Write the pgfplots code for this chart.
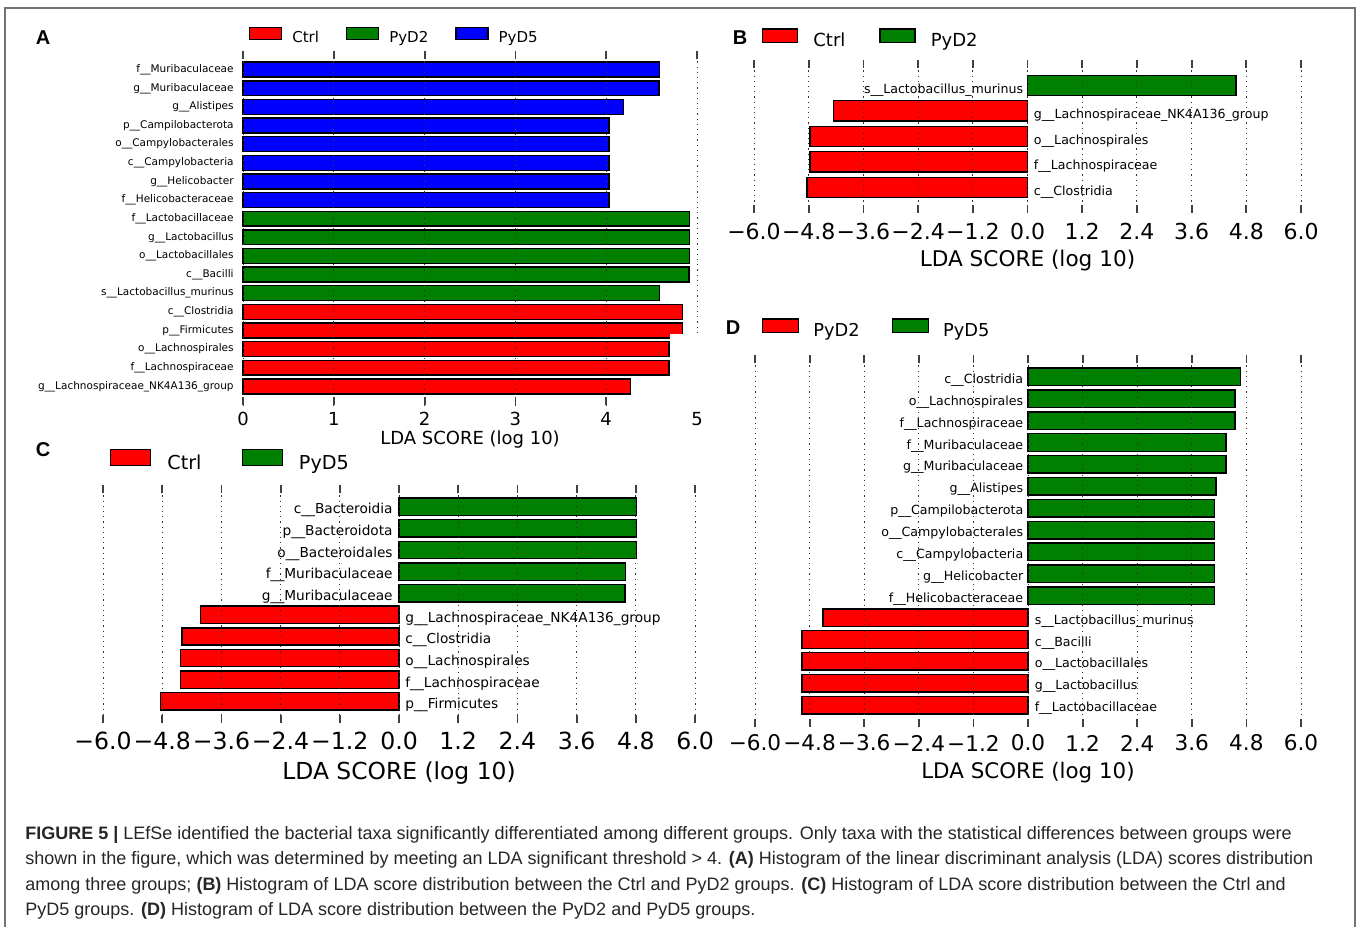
\documentclass[border=0pt]{standalone}
\usepackage{fontspec}
\setmainfont{DejaVu Sans}
\newfontfamily\capfont{Liberation Sans}
\usepackage{pgfplots}
\pgfplotsset{compat=1.18}
\definecolor{lred}{HTML}{FF0000}
\definecolor{lgreen}{HTML}{008000}
\definecolor{lblue}{HTML}{0000FF}
\newcommand\fs[1]{\fontsize{#1}{#1}\selectfont}
\tikzset{lab/.style={inner sep=0pt}}
\pgfplotsset{
 lefse/.style={
   scale only axis, xbar, bar shift=0pt, bar width=0.8,
   y dir=reverse, ytick=\empty,
   every outer x axis line/.append style={draw=none},
   every outer y axis line/.append style={draw=none},
   xtick pos=both, tick align=inside, major tick length=4pt,
   every tick/.style={draw=black!75, solid, line width=0.9pt},
   xmajorgrids, grid style={draw=black!80, line width=0.5pt, dash pattern=on 0.6pt off 2pt},
   axis on top, clip=false,
   legend columns=-1, legend cell align=left,
   legend style={draw=none, fill=none, inner sep=0pt, outer sep=0pt, nodes={inner sep=0pt}, anchor=west},
   every axis plot/.append style={draw=black, line width=0.7pt},
   xticklabel style={anchor=center},
 },
 sym/.style={xmin=-6, xmax=6, xtick={-6,-4.8,-3.6,-2.4,-1.2,0,1.2,2.4,3.6,4.8,6},
   xticklabels={−6.0,−4.8,−3.6,−2.4,−1.2,0.0,1.2,2.4,3.6,4.8,6.0}},
}
\begin{document}
\begin{tikzpicture}
\useasboundingbox (0,0) rectangle (679pt,463pt);
\fill[white] (0,0) rectangle (679pt,463pt);
\draw[black!55, line width=1pt] (2.5pt,-5pt) rectangle (677.5pt,459pt);

% ---------------- Panel A
\begin{axis}[lefse, at={(121.5pt,260.5pt)}, anchor=south west, width=227pt, height=177pt,
  xmin=0, xmax=5, ymin=-1, ymax=18, xtick={0,1,2,3,4,5}, xticklabels={0,1,2,3,4,5},
  xticklabel style={font=\fs{9}, yshift=-7pt},
  ytick={0,...,17}, ytick pos=left, ytick style={draw=none},
  yticklabels={f\_\_Muribaculaceae,g\_\_Muribaculaceae,g\_\_Alistipes,p\_\_Campilobacterota,o\_\_Campylobacterales,c\_\_Campylobacteria,g\_\_Helicobacter,f\_\_Helicobacteraceae,f\_\_Lactobacillaceae,g\_\_Lactobacillus,o\_\_Lactobacillales,c\_\_Bacilli,s\_\_Lactobacillus\_murinus,c\_\_Clostridia,p\_\_Firmicutes,o\_\_Lachnospirales,f\_\_Lachnospiraceae,g\_\_Lachnospiraceae\_NK4A136\_group},
  yticklabel style={font=\fs{5.25}, anchor=east, inner sep=0pt, xshift=-4.5pt},
  xlabel={LDA SCORE (log 10)}, xlabel style={at={(axis description cs:0.5,0)}, anchor=center, yshift=-17.5pt, font=\fs{9}},
  legend style={at={(0.0132,1.0424)}, font=\fs{7.5},
    /tikz/every even column/.append style={column sep=13.5pt}},
  legend image code/.code={\draw[#1,draw=black,line width=0.6pt] (0pt,-0.5pt) rectangle (16pt,5.5pt); \path (21pt,0pt);},
]
\addplot[fill=lred] coordinates {(4.84,13) (4.84,14) (4.69,15) (4.69,16) (4.27,17)};
\addplot[fill=lgreen] coordinates {(4.92,8) (4.92,9) (4.92,10) (4.91,11) (4.59,12)};
\addplot[fill=lblue] coordinates {(4.59,0) (4.58,1) (4.19,2) (4.03,3) (4.03,4) (4.03,5) (4.03,6) (4.03,7)};
\legend{Ctrl,PyD2,PyD5}
\end{axis}
\fill[white] (335pt,258pt) rectangle (360pt,296pt);

% ---------------- Panel B
\begin{axis}[lefse, sym, at={(377pt,356.5pt)}, anchor=south west, width=273.5pt, height=76.5pt,
  ymin=-1, ymax=5,
  xticklabel style={font=\fs{11}, yshift=-9pt},
  xlabel={LDA SCORE (log 10)}, xlabel style={at={(axis description cs:0.5,0)}, anchor=center, yshift=-24pt, font=\fs{10.8}},
  legend style={at={(0.0146,1.137)}, font=\fs{9},
    /tikz/every even column/.append style={column sep=17pt}},
  legend image code/.code={\draw[#1,draw=black,line width=0.7pt] (0pt,-0.6pt) rectangle (17.5pt,6.3pt); \path (25pt,0pt);},
]
\addplot[fill=lred] coordinates {(-4.25,1) (-4.77,2) (-4.77,3) (-4.84,4)};
\addplot[fill=lgreen] coordinates {(4.57,0)};
\legend{Ctrl,PyD2}
\begin{scope}[font=\fs{6.3}]
\node[lab, anchor=base east, xshift=-2pt] at (axis cs:0,0.3) {s\_\_Lactobacillus\_murinus};
\node[lab, anchor=base west, xshift=3pt] at (axis cs:0,1.3) {g\_\_Lachnospiraceae\_NK4A136\_group};
\node[lab, anchor=base west, xshift=3pt] at (axis cs:0,2.3) {o\_\_Lachnospirales};
\node[lab, anchor=base west, xshift=3pt] at (axis cs:0,3.3) {f\_\_Lachnospiraceae};
\node[lab, anchor=base west, xshift=3pt] at (axis cs:0,4.3) {c\_\_Clostridia};
\end{scope}
\end{axis}

% ---------------- Panel C
\begin{axis}[lefse, sym, at={(51.5pt,101.5pt)}, anchor=south west, width=296pt, height=119pt,
  ymin=-1, ymax=10,
  xticklabel style={font=\fs{11.8}, yshift=-9pt},
  xlabel={LDA SCORE (log 10)}, xlabel style={at={(axis description cs:0.5,0)}, anchor=center, yshift=-25pt, font=\fs{11.7}},
  legend style={at={(0.0118,1.1008)}, font=\fs{9.6},
    /tikz/every even column/.append style={column sep=20pt}},
  legend image code/.code={\draw[#1,draw=black,line width=0.7pt] (0pt,-0.8pt) rectangle (20pt,7.2pt); \path (28pt,0pt);},
]
\addplot[fill=lred] coordinates {(-4.02,5) (-4.40,6) (-4.43,7) (-4.43,8) (-4.84,9)};
\addplot[fill=lgreen] coordinates {(4.81,0) (4.81,1) (4.81,2) (4.59,3) (4.58,4)};
\legend{Ctrl,PyD5}
\begin{scope}[font=\fs{6.85}]
\node[lab, anchor=base east, xshift=-3pt] at (axis cs:0,0.34) {c\_\_Bacteroidia};
\node[lab, anchor=base east, xshift=-3pt] at (axis cs:0,1.34) {p\_\_Bacteroidota};
\node[lab, anchor=base east, xshift=-3pt] at (axis cs:0,2.34) {o\_\_Bacteroidales};
\node[lab, anchor=base east, xshift=-3pt] at (axis cs:0,3.34) {f\_\_Muribaculaceae};
\node[lab, anchor=base east, xshift=-3pt] at (axis cs:0,4.34) {g\_\_Muribaculaceae};
\node[lab, anchor=base west, xshift=3pt] at (axis cs:0,5.34) {g\_\_Lachnospiraceae\_NK4A136\_group};
\node[lab, anchor=base west, xshift=3pt] at (axis cs:0,6.34) {c\_\_Clostridia};
\node[lab, anchor=base west, xshift=3pt] at (axis cs:0,7.34) {o\_\_Lachnospirales};
\node[lab, anchor=base west, xshift=3pt] at (axis cs:0,8.34) {f\_\_Lachnospiraceae};
\node[lab, anchor=base west, xshift=3pt] at (axis cs:0,9.34) {p\_\_Firmicutes};
\end{scope}
\end{axis}

% ---------------- Panel D
\begin{axis}[lefse, sym, at={(377.5pt,99.5pt)}, anchor=south west, width=273pt, height=186pt,
  ymin=-1, ymax=16,
  xticklabel style={font=\fs{10.8}, yshift=-8pt},
  xlabel={LDA SCORE (log 10)}, xlabel style={at={(axis description cs:0.5,0)}, anchor=center, yshift=-23pt, font=\fs{10.7}},
  legend style={at={(0.0128,1.0699)}, font=\fs{8.9},
    /tikz/every even column/.append style={column sep=16pt}},
  legend image code/.code={\draw[#1,draw=black,line width=0.7pt] (0pt,-0.6pt) rectangle (18pt,6.3pt); \path (25pt,0pt);},
]
\addplot[fill=lred] coordinates {(-4.51,11) (-4.97,12) (-4.97,13) (-4.97,14) (-4.97,15)};
\addplot[fill=lgreen] coordinates {(4.67,0) (4.55,1) (4.55,2) (4.35,3) (4.35,4) (4.13,5) (4.10,6) (4.10,7) (4.10,8) (4.10,9) (4.10,10)};
\legend{PyD2,PyD5}
\begin{scope}[font=\fs{6.3}]
\node[lab, anchor=base east, xshift=-2.2pt] at (axis cs:0,0.3) {c\_\_Clostridia};
\node[lab, anchor=base east, xshift=-2.2pt] at (axis cs:0,1.3) {o\_\_Lachnospirales};
\node[lab, anchor=base east, xshift=-2.2pt] at (axis cs:0,2.3) {f\_\_Lachnospiraceae};
\node[lab, anchor=base east, xshift=-2.2pt] at (axis cs:0,3.3) {f\_\_Muribaculaceae};
\node[lab, anchor=base east, xshift=-2.2pt] at (axis cs:0,4.3) {g\_\_Muribaculaceae};
\node[lab, anchor=base east, xshift=-2.2pt] at (axis cs:0,5.3) {g\_\_Alistipes};
\node[lab, anchor=base east, xshift=-2.2pt] at (axis cs:0,6.3) {p\_\_Campilobacterota};
\node[lab, anchor=base east, xshift=-2.2pt] at (axis cs:0,7.3) {o\_\_Campylobacterales};
\node[lab, anchor=base east, xshift=-2.2pt] at (axis cs:0,8.3) {c\_\_Campylobacteria};
\node[lab, anchor=base east, xshift=-2.2pt] at (axis cs:0,9.3) {g\_\_Helicobacter};
\node[lab, anchor=base east, xshift=-2.2pt] at (axis cs:0,10.3) {f\_\_Helicobacteraceae};
\node[lab, anchor=base west, xshift=3.2pt] at (axis cs:0,11.3) {s\_\_Lactobacillus\_murinus};
\node[lab, anchor=base west, xshift=3.2pt] at (axis cs:0,12.3) {c\_\_Bacilli};
\node[lab, anchor=base west, xshift=3.2pt] at (axis cs:0,13.3) {o\_\_Lactobacillales};
\node[lab, anchor=base west, xshift=3.2pt] at (axis cs:0,14.3) {g\_\_Lactobacillus};
\node[lab, anchor=base west, xshift=3.2pt] at (axis cs:0,15.3) {f\_\_Lactobacillaceae};
\end{scope}
\end{axis}

% ---------------- panel letters
\begin{scope}[font=\capfont\bfseries\fs{10}]
\node at (21.5pt,444pt) {A};
\node at (370pt,444pt) {B};
\node at (21.5pt,238pt) {C};
\node at (366.5pt,299pt) {D};
\end{scope}

% ---------------- caption
\begin{scope}[font=\capfont\fs{9}, text=black!85]
\node[anchor=base west, inner sep=0pt] at (12.5pt,43.25pt) {\textbf{FIGURE 5 |} LEfSe identified the bacterial taxa significantly differentiated among different groups. Only taxa with the statistical differences between groups were};
\node[anchor=base west, inner sep=0pt] at (12.5pt,30.6pt) {shown in the figure, which was determined by meeting an LDA significant threshold > 4. \textbf{(A)} Histogram of the linear discriminant analysis (LDA) scores distribution};
\node[anchor=base west, inner sep=0pt] at (12.5pt,17.95pt) {among three groups; \textbf{(B)} Histogram of LDA score distribution between the Ctrl and PyD2 groups. \textbf{(C)} Histogram of LDA score distribution between the Ctrl and};
\node[anchor=base west, inner sep=0pt] at (12.5pt,5.3pt) {PyD5 groups. \textbf{(D)} Histogram of LDA score distribution between the PyD2 and PyD5 groups.};
\end{scope}
\end{tikzpicture}
\end{document}
